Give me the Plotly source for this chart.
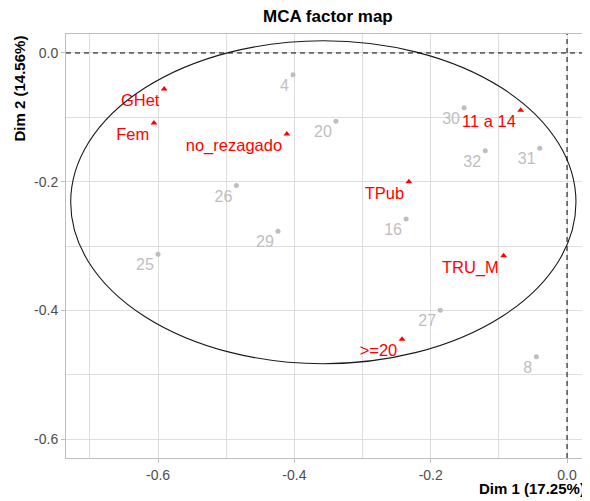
import plotly.graph_objects as go

# Individuals (grey)
ind_labels = ["4", "20", "30", "32", "31", "16", "26", "29", "25", "27", "8"]
ind_x = [-0.402, -0.339, -0.151, -0.120, -0.040, -0.236, -0.485, -0.424, -0.600, -0.186, -0.045]
ind_y = [-0.034, -0.106, -0.085, -0.152, -0.148, -0.258, -0.206, -0.277, -0.313, -0.400, -0.472]

# Categories (red)
cat_labels = ["GHet", "Fem", "no_rezagado", "11 a 14", "TPub", "TRU_M", ">=20"]
cat_x = [-0.591, -0.606, -0.411, -0.068, -0.232, -0.093, -0.242]
cat_y = [-0.056, -0.109, -0.126, -0.089, -0.200, -0.315, -0.445]

# Ellipse (center and semi-axes)
ell_center = [-0.3575, -0.232]
ell_radii = [0.3706, 0.251]

x_ticks = [-0.6, -0.4, -0.2, 0.0]
y_ticks = [0.0, -0.2, -0.4, -0.6]
x_range = [-0.735, 0.0337]
y_range = [-0.6295, 0.0295]

FONT = "Liberation Sans, Arial, sans-serif"

fig = go.Figure()
fig.add_trace(go.Scatter(
    x=ind_x, y=ind_y, text=ind_labels, mode="markers+text",
    textposition="bottom left",
    marker=dict(color="#BEBEBE", size=5, symbol="circle"),
    textfont=dict(color="#BEBEBE", size=16, family=FONT),
    hoverinfo="skip", showlegend=False))
fig.add_trace(go.Scatter(
    x=cat_x, y=cat_y, text=cat_labels, mode="markers+text",
    textposition="bottom left",
    marker=dict(color="#FF0000", size=6, symbol="triangle-up"),
    textfont=dict(color="#FF0000", size=16.5, family=FONT),
    hoverinfo="skip", showlegend=False))

shapes = [
    dict(type="circle", xref="x", yref="y",
         x0=ell_center[0] - ell_radii[0], x1=ell_center[0] + ell_radii[0],
         y0=ell_center[1] - ell_radii[1], y1=ell_center[1] + ell_radii[1],
         line=dict(color="#1a1a1a", width=1.1), layer="above"),
    dict(type="line", xref="x", yref="paper", x0=0, x1=0, y0=0, y1=1,
         line=dict(color="black", width=1, dash="5px,4px")),
    dict(type="line", xref="paper", yref="y", x0=0, x1=1, y0=0, y1=0,
         line=dict(color="black", width=1, dash="5px,4px")),
]

axis_common = dict(
    showgrid=True, gridcolor="#DEDEDE", gridwidth=1,
    zeroline=False, showline=True, linecolor="#BDBDBD", linewidth=1, mirror=True,
    ticks="outside", ticklen=4, tickcolor="#BDBDBD",
    tickfont=dict(size=14, color="#4D4D4D", family=FONT),
)

# page body has an 8px default margin; size the figure so it fills the 590x501 window
fig.update_layout(
    width=582, height=493,
    margin=dict(l=58, r=0, t=26, b=43),
    plot_bgcolor="white", paper_bgcolor="white",
    shapes=shapes,
    xaxis=dict(range=x_range, tickvals=x_ticks, ticktext=["-0.6", "-0.4", "-0.2", "0.0"],
               minor=dict(tickvals=[-0.7, -0.5, -0.3, -0.1], showgrid=True, gridcolor="#DEDEDE"),
               **axis_common),
    yaxis=dict(range=y_range, tickvals=y_ticks, ticktext=["0.0", "-0.2", "-0.4", "-0.6"],
               minor=dict(tickvals=[-0.1, -0.3, -0.5], showgrid=True, gridcolor="#DEDEDE"),
               **axis_common),
    annotations=[
        dict(text="<b>MCA factor map</b>", xref="paper", yref="paper", x=0.5, y=1,
             yshift=6, xanchor="center", yanchor="bottom", showarrow=False,
             font=dict(size=17, color="black", family=FONT)),
        dict(text="<b>Dim 1 (17.25%)</b>", xref="paper", yref="paper", x=1, y=0,
             xshift=-3, yshift=-20, xanchor="right", yanchor="top", showarrow=False,
             font=dict(size=15, color="black", family=FONT)),
        dict(text="<b>Dim 2 (14.56%)</b>", xref="paper", yref="paper", x=0, y=1,
             xshift=-37, xanchor="right", yanchor="top", textangle=-90, showarrow=False,
             font=dict(size=15, color="black", family=FONT)),
    ],
)

fig.write_html("out.html")
